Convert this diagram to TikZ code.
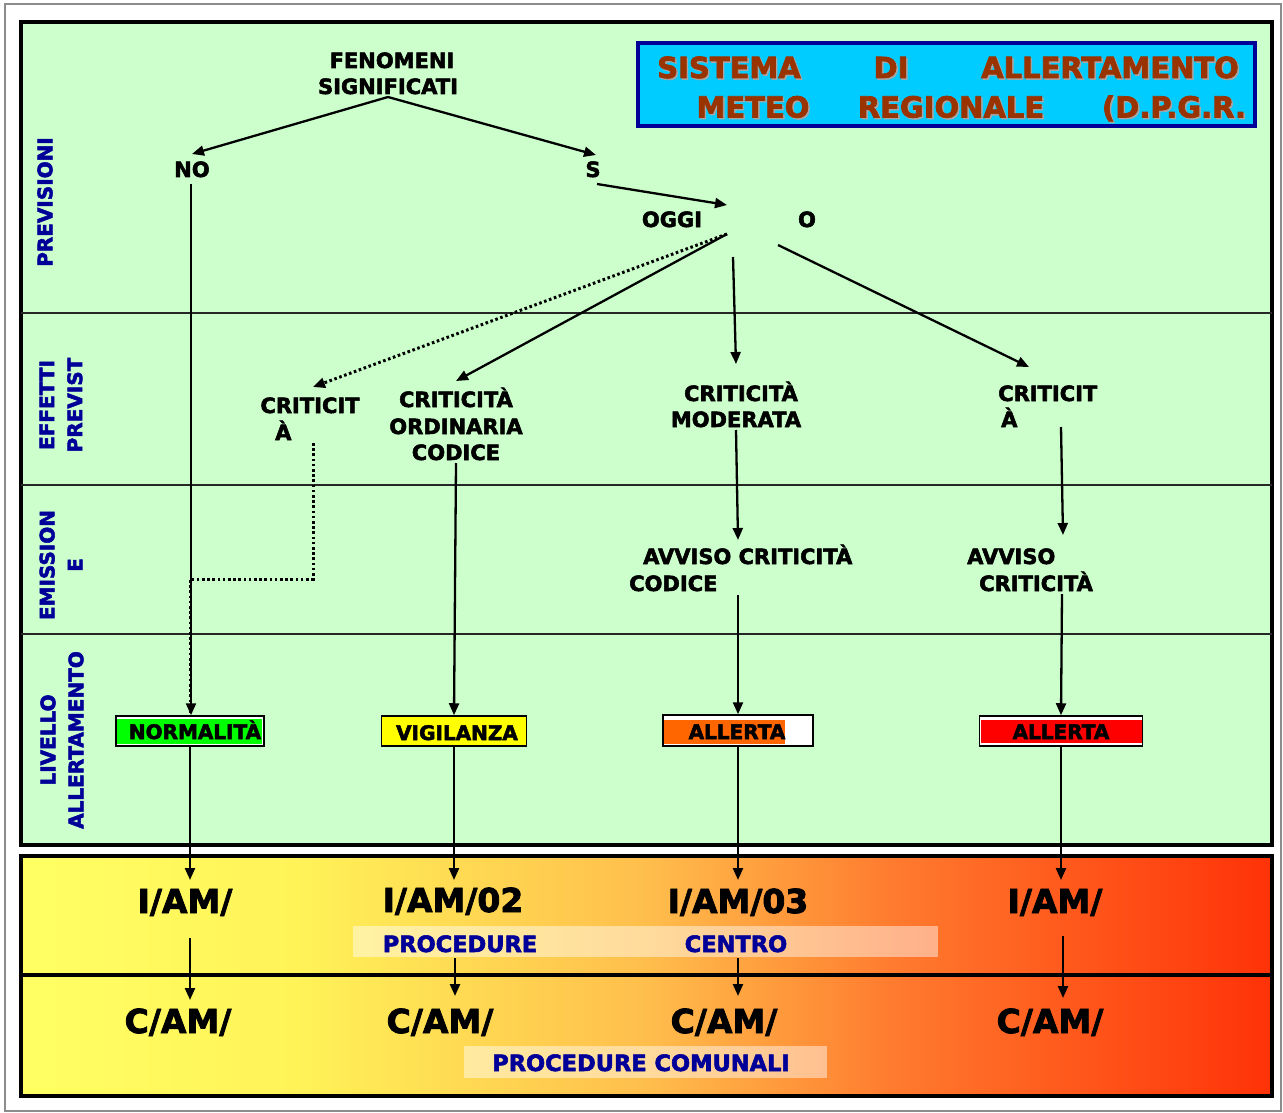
\documentclass[tikz,border=0pt]{standalone}
\usepackage{fontspec}
\setmainfont{DejaVu Sans}[BoldFeatures={FakeBold=2.5}]
\usetikzlibrary{arrows.meta}
\definecolor{panelgreen}{HTML}{CCFFCC}
\definecolor{navy}{HTML}{000099}
\definecolor{titlebrown}{HTML}{993300}
\definecolor{titlecyan}{HTML}{00CCFF}
\definecolor{normgreen}{HTML}{00FF00}
\definecolor{vigyellow}{HTML}{FFFF00}
\definecolor{allorange}{HTML}{FF6600}
\definecolor{allred}{HTML}{FF0000}
\definecolor{gA}{RGB}{255,255,100}
\definecolor{gB}{RGB}{255,243,88}
\definecolor{gC}{RGB}{255,190,76}
\definecolor{gD}{RGB}{255,122,46}
\definecolor{gE}{RGB}{255,50,8}
\pgfdeclarehorizontalshading{bandshade}{100bp}{color(0bp)=(gA); color(25bp)=(gA); color(36bp)=(gB); color(50bp)=(gC); color(60bp)=(gD); color(75bp)=(gE); color(100bp)=(gE)}
\tikzset{
  lab/.style={font=\fontsize{21}{25}\selectfont\bfseries, inner sep=0pt, anchor=base},
  boxlab/.style={font=\fontsize{20}{24}\selectfont\bfseries, inner sep=0pt, anchor=base},
  biglab/.style={font=\fontsize{33}{38}\selectfont\bfseries, inner sep=0pt, anchor=base},
  blulab/.style={font=\fontsize{22.5}{26}\selectfont\bfseries, text=navy, inner sep=0pt, anchor=base},
  sidelab/.style={font=\fontsize{20}{28}\selectfont\bfseries, text=navy, inner sep=0pt, rotate=90, align=center},
  titlab/.style={font=\fontsize{29}{34}\selectfont\bfseries, text=titlebrown, inner sep=0pt, anchor=base},
  titshadow/.style={titlab, text=black!35},
  arr/.style={line width=2.3pt, -{Triangle[length=12pt,width=10pt]}},
  dotarr/.style={line width=3pt, dash pattern=on 2.6pt off 2.6pt, -{Triangle[length=12pt,width=10pt]}},
  dotline/.style={line width=3pt, dash pattern=on 2.6pt off 2.6pt},
  levbox/.style={draw=black, line width=1.5pt, fill=white, inner sep=0pt, minimum height=30pt},
  divider/.style={line width=1.3pt, draw=black!85},
}
\begin{document}
\begin{tikzpicture}[x=1pt,y=-1pt]
\useasboundingbox (0,0) rectangle (1283,1113);
\fill[white] (0,0) rectangle (1283,1113);
\draw[black!45, line width=1.2pt] (5,4) rectangle (1281,1111);

% green panel
\draw[fill=panelgreen, line width=3.5pt] (21,22) rectangle (1272,845);
\draw[divider] (21,313) -- (1272,313);
\draw[divider] (21,485) -- (1272,485);
\draw[divider] (21,634) -- (1272,634);

% title
\draw[fill=titlecyan, draw=navy, line width=3.5pt] (638,43) rectangle (1255,126);
\node[titshadow] (t1s) at (730.5,79.5) {SISTEMA};
\node[titlab] (t1) at (729,78) {SISTEMA};
\node[titshadow] (t2s) at (892.5,79.5) {DI};
\node[titlab] (t2) at (891,78) {DI};
\node[titshadow] (t3s) at (1111.5,79.5) {ALLERTAMENTO};
\node[titlab] (t3) at (1110,78) {ALLERTAMENTO};
\node[titshadow] (t4s) at (754.5,119) {METEO};
\node[titlab] (t4) at (753,117.5) {METEO};
\node[titshadow] (t5s) at (952.5,119) {REGIONALE};
\node[titlab] (t5) at (951,117.5) {REGIONALE};
\node[titshadow] (t6s) at (1175.5,119) {(D.P.G.R.};
\node[titlab] (t6) at (1174,117.5) {(D.P.G.R.};

% side labels
\node[sidelab] (sPrev) at (45,202) {PREVISIONI};
\node[sidelab] (sEff) at (61,405) {EFFETTI\\PREVIST};
\node[sidelab] (sEmi) at (61,565) {EMISSION\\E};
\node[sidelab] (sLiv) at (62,740) {LIVELLO\\ALLERTAMENTO};

% text labels
\node[lab] (fen1) at (392,68) {FENOMENI};
\node[lab] (fen2) at (388,94) {SIGNIFICATI};
\node[lab] (no) at (192,177) {NO};
\node[lab] (si) at (593,177) {S};
\node[lab] (oggi) at (672,227) {OGGI};
\node[lab] (oo) at (807,227) {O};
\node[lab] (c1a) at (310,413) {CRITICIT};
\node[lab, anchor=base west] (c1b) at (275,440) {À};
\node[lab] (c2a) at (456,407) {CRITICITÀ};
\node[lab] (c2b) at (456,434) {ORDINARIA};
\node[lab] (c2c) at (456,460) {CODICE};
\node[lab] (c3a) at (741,401) {CRITICITÀ};
\node[lab] (c3b) at (736,427) {MODERATA};
\node[lab, anchor=base west] (c4a) at (998,401) {CRITICIT};
\node[lab, anchor=base west] (c4b) at (1001,427) {À};
\node[lab, anchor=base west] (a1a) at (643,564) {AVVISO CRITICITÀ};
\node[lab, anchor=base west] (a1b) at (629,591) {CODICE};
\node[lab, anchor=base west] (a2a) at (967,564) {AVVISO};
\node[lab, anchor=base west] (a2b) at (979,591) {CRITICITÀ};

% level boxes
\node[levbox, minimum width=148pt] (normbox) at (190,731) {};
\fill[normgreen] (117,719) rectangle (262,744);
\node[boxlab] (normt) at (195,739) {NORMALITÀ};
\node[levbox, fill=vigyellow, minimum width=145pt] (vigbox) at (454,731) {};
\node[boxlab] (vigt) at (457,740) {VIGILANZA};
\node[levbox, minimum width=150pt, minimum height=31pt] (orabox) at (738,730.5) {};
\fill[allorange] (664,720) rectangle (785,744);
\node[boxlab] (orat) at (737,739) {ALLERTA};
\node[levbox, minimum width=163pt] (redbox) at (1061,731) {};
\fill[allred] (980.5,720) rectangle (1141.5,743);
\node[boxlab] (redt) at (1061,739) {ALLERTA};

% bottom panel
\shade[shading=bandshade] (21,856) rectangle (1272,1096);
\fill[white, opacity=0.45] (353,926) rectangle (938,957);
\fill[white, opacity=0.45] (464,1046) rectangle (827,1078);
\draw[line width=3.5pt] (21,856) rectangle (1272,1096);
\draw[line width=3.5pt] (21,975) -- (1272,975);

\node[biglab] (i1) at (185,913) {I/AM/};
\node[biglab] (i2) at (453,912) {I/AM/02};
\node[biglab] (i3) at (738,913) {I/AM/03};
\node[biglab] (i4) at (1055,913) {I/AM/};
\node[biglab] (k1) at (178,1033) {C/AM/};
\node[biglab] (k2) at (440,1033) {C/AM/};
\node[biglab] (k3) at (724,1033) {C/AM/};
\node[biglab] (k4) at (1050,1033) {C/AM/};
\node[blulab] (p1) at (460,952) {PROCEDURE};
\node[blulab] (p2) at (736,952) {CENTRO};
\node[blulab] (p3) at (641,1071) {PROCEDURE COMUNALI};

% connector points
\coordinate (fenB) at (388,97);
\coordinate (noT) at (192,154);
\coordinate (sT) at (596,155);
\coordinate (sB) at (597,184);
\coordinate (oggiR) at (727,205);
\coordinate (noB) at (191,184);
\coordinate (oggiD) at (727,234);
\coordinate (c1T) at (313,387);
\coordinate (c2T) at (456,381);
\coordinate (modS) at (733,257);
\coordinate (c3T) at (736,364);
\coordinate (oR) at (778,245);
\coordinate (c4T) at (1029,367);
\coordinate (c1B) at (313,443);
\coordinate (dk1) at (313,579);
\coordinate (dk2) at (190,579);
\coordinate (c2B) at (456,463);
\coordinate (c3B) at (736,430);
\coordinate (a1T) at (738,540);
\coordinate (c4B) at (1061,427);
\coordinate (a2T) at (1063,535);
\coordinate (a1B) at (738,595);
\coordinate (a2B) at (1062,594);
\coordinate (rowI) at (0,880);
\coordinate (i1B) at (190,938);
\coordinate (k1T) at (190,1000);
\coordinate (p1B) at (455,958);
\coordinate (k2T) at (455,996);
\coordinate (p2B) at (738,958);
\coordinate (k3T) at (738,996);
\coordinate (i4B) at (1063,936);
\coordinate (k4T) at (1063,998);

% connectors
\draw[arr] (fenB) -- (noT);
\draw[arr] (fenB) -- (sT);
\draw[arr] (sB) -- (oggiR);
\draw[arr] (noB) -- (noB |- normbox.north);
\draw[dotarr] (oggiD) -- (c1T);
\draw[arr] (oggiD) -- (c2T);
\draw[arr] (modS) -- (c3T);
\draw[arr] (oR) -- (c4T);
\draw[dotline] (c1B) -- (dk1) -- (dk2) -- (dk2 |- normbox.north);
\draw[arr] (c2B) -- (vigbox.north);
\draw[arr] (c3B) -- (a1T);
\draw[arr] (c4B) -- (a2T);
\draw[arr] (a1B) -- (orabox.north);
\draw[arr] (a2B) -- (redbox.north);
\draw[arr] (normbox.south) -- (normbox.south |- rowI);
\draw[arr] (vigbox.south) -- (vigbox.south |- rowI);
\draw[arr] (orabox.south) -- (orabox.south |- rowI);
\draw[arr] (redbox.south) -- (redbox.south |- rowI);
\draw[arr] (i1B) -- (k1T);
\draw[arr] (p1B) -- (k2T);
\draw[arr] (p2B) -- (k3T);
\draw[arr] (i4B) -- (k4T);
\end{tikzpicture}
\end{document}
